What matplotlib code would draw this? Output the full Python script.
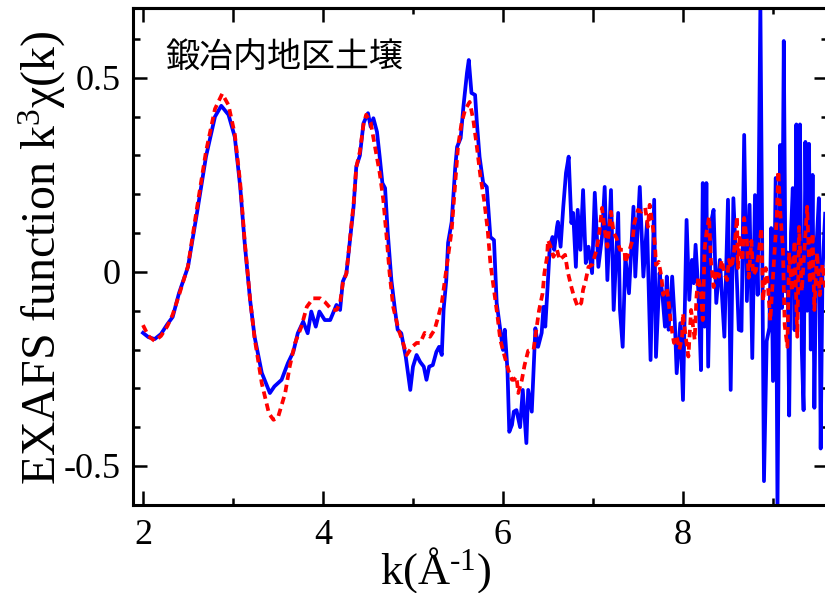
import numpy as np
import matplotlib
matplotlib.use("Agg")
import matplotlib.pyplot as plt
from matplotlib.ticker import MultipleLocator

plt.rcParams["font.family"] = ["Liberation Serif", "DejaVu Serif"]
plt.rcParams["mathtext.fontset"] = "custom"
plt.rcParams["mathtext.rm"] = "Liberation Serif"
plt.rcParams["mathtext.it"] = "Liberation Serif"

# measured k^3 chi(k) (solid blue)
k_meas = [2.00, 2.06, 2.13, 2.20, 2.27, 2.33, 2.40, 2.50, 2.60, 2.70, 2.80, 2.87, 2.95, 3.02, 3.08,
          3.13, 3.19, 3.24, 3.32, 3.41, 3.46, 3.54, 3.61, 3.67, 3.72, 3.78, 3.83, 3.87, 3.92, 3.96,
          4.02, 4.08, 4.15, 4.19, 4.22, 4.26, 4.30, 4.34, 4.37, 4.41, 4.45, 4.50, 4.53, 4.56, 4.60,
          4.63, 4.66, 4.69, 4.72, 4.76, 4.80, 4.83, 4.87, 4.92, 4.97, 5.00, 5.04, 5.08, 5.12, 5.15,
          5.18, 5.22, 5.26, 5.29, 5.32, 5.34, 5.37, 5.39, 5.43, 5.47, 5.49, 5.53, 5.56, 5.60, 5.62,
          5.65, 5.69, 5.71, 5.74, 5.78, 5.82, 5.83, 5.86, 5.90, 5.93, 5.97, 6.00, 6.02, 6.05, 6.07,
          6.10, 6.12, 6.15, 6.19, 6.22, 6.26, 6.28, 6.32, 6.36, 6.39, 6.43, 6.45, 6.47, 6.50, 6.52,
          6.55, 6.57, 6.60, 6.61, 6.64, 6.67, 6.70, 6.73, 6.76, 6.78, 6.81, 6.83, 6.86, 6.89, 6.92,
          6.95, 6.99, 7.02, 7.06, 7.10, 7.13, 7.16, 7.20, 7.23, 7.28, 7.30, 7.33, 7.36, 7.40, 7.45,
          7.47, 7.52, 7.56, 7.60, 7.64, 7.68, 7.70, 7.74, 7.77, 7.80, 7.82, 7.84, 7.88, 7.91, 7.93,
          7.97, 8.00, 8.04, 8.07, 8.10, 8.12, 8.14, 8.17, 8.20, 8.22, 8.24, 8.26, 8.28, 8.31, 8.34,
          8.37, 8.41, 8.46, 8.50, 8.53, 8.56, 8.60, 8.62, 8.65, 8.68, 8.71, 8.74, 8.77, 8.80, 8.83,
          8.86, 8.90, 8.93, 8.96, 8.98, 9.00, 9.03, 9.05, 9.08, 9.10, 9.12, 9.14, 9.16, 9.18, 9.20,
          9.22, 9.24, 9.26, 9.28, 9.30, 9.32, 9.34, 9.36, 9.38, 9.40, 9.42, 9.44, 9.46, 9.48, 9.51,
          9.53, 9.55, 9.58]
chi_meas = [-0.157, -0.168, -0.173, -0.160, -0.135, -0.116, -0.055, 0.013, 0.152, 0.297, 0.400, 0.428, 0.405, 0.348, 0.220,
            0.075, -0.072, -0.167, -0.260, -0.312, -0.295, -0.278, -0.235, -0.206, -0.158, -0.128, -0.158, -0.102, -0.141, -0.102,
            -0.124, -0.124, -0.085, -0.098, -0.025, -0.004, 0.082, 0.168, 0.271, 0.300, 0.383, 0.409, 0.374, 0.396, 0.361,
            0.297, 0.229, 0.216, 0.100, -0.021, -0.098, -0.149, -0.158, -0.219, -0.304, -0.244, -0.214, -0.232, -0.244, -0.278,
            -0.244, -0.240, -0.206, -0.193, -0.214, -0.098, -0.021, 0.075, 0.129, 0.271, 0.322, 0.345, 0.425, 0.513, 0.546,
            0.461, 0.456, 0.384, 0.296, 0.229, 0.219, 0.186, 0.090, 0.082, -0.080, -0.149, -0.201, -0.149, -0.253, -0.412,
            -0.394, -0.360, -0.356, -0.400, -0.304, -0.441, -0.304, -0.360, -0.145, -0.193, -0.157, -0.090, -0.141, -0.021, 0.065,
            0.090, 0.057, 0.116, 0.129, 0.065, 0.168, 0.255, 0.297, 0.126, 0.152, 0.013, 0.160, 0.057, 0.211, 0.023,
            0.065, -0.003, 0.204, 0.013, 0.090, 0.219, -0.021, 0.211, -0.098, 0.152, -0.098, -0.193, 0.039, -0.055, 0.168,
            -0.012, 0.219, -0.012, 0.126, -0.227, 0.186, -0.219, -0.003, -0.055, -0.141, -0.012, -0.149, -0.012, -0.132, -0.261,
            -0.132, -0.330, 0.134, -0.072, 0.031, -0.029, 0.070, -0.046, -0.253, 0.229, -0.141, 0.229, -0.244, 0.126, 0.160,
            -0.080, 0.031, -0.167, 0.186, -0.304, 0.190, -0.029, -0.149, -0.152, 0.353, -0.075, 0.173, -0.222, 0.198, -0.059,
            0.690, -0.539, -0.178, -0.144, 0.113, -0.281, 0.242, -0.615, 0.327, -0.093, 0.595, -0.050, 0.050, -0.370, 0.100,
            0.216, -0.150, 0.380, -0.100, 0.380, -0.200, -0.356, 0.335, -0.100, 0.330, -0.200, 0.250, -0.350, 0.050, 0.190,
            -0.455, 0.000, 0.150]

# fitted k^3 chi(k) (dashed red)
k_fit = [2.00, 2.06, 2.13, 2.20, 2.27, 2.33, 2.40, 2.50, 2.60, 2.70, 2.80, 2.88, 2.95, 3.02, 3.08,
         3.13, 3.19, 3.24, 3.32, 3.40, 3.45, 3.50, 3.58, 3.63, 3.69, 3.76, 3.82, 3.89, 3.97, 4.02,
         4.10, 4.15, 4.19, 4.22, 4.26, 4.30, 4.34, 4.37, 4.41, 4.45, 4.48, 4.53, 4.58, 4.63, 4.67,
         4.71, 4.74, 4.78, 4.84, 4.89, 4.93, 4.99, 5.04, 5.08, 5.13, 5.19, 5.24, 5.28, 5.32, 5.36,
         5.39, 5.43, 5.47, 5.50, 5.54, 5.58, 5.63, 5.67, 5.71, 5.75, 5.79, 5.83, 5.86, 5.90, 5.94,
         5.97, 6.02, 6.06, 6.10, 6.12, 6.15, 6.17, 6.21, 6.24, 6.28, 6.34, 6.37, 6.40, 6.44, 6.46,
         6.49, 6.50, 6.53, 6.56, 6.60, 6.63, 6.69, 6.72, 6.76, 6.79, 6.83, 6.87, 6.89, 6.92, 6.95,
         6.99, 7.04, 7.07, 7.10, 7.13, 7.16, 7.20, 7.23, 7.26, 7.30, 7.35, 7.36, 7.40, 7.44, 7.46,
         7.50, 7.54, 7.58, 7.61, 7.63, 7.67, 7.69, 7.70, 7.73, 7.76, 7.78, 7.82, 7.84, 7.87, 7.90,
         7.93, 7.96, 7.99, 8.00, 8.03, 8.06, 8.09, 8.13, 8.15, 8.17, 8.20, 8.22, 8.24, 8.26, 8.29,
         8.31, 8.34, 8.37, 8.40, 8.43, 8.46, 8.49, 8.51, 8.54, 8.57, 8.60, 8.61, 8.63, 8.66, 8.68,
         8.71, 8.73, 8.76, 8.78, 8.81, 8.84, 8.87, 8.89, 8.92, 8.94, 8.97, 8.99, 9.02, 9.04, 9.06,
         9.08, 9.11, 9.13, 9.16, 9.18, 9.21, 9.24, 9.27, 9.29, 9.32, 9.35, 9.38, 9.41, 9.44, 9.46,
         9.49, 9.52, 9.55, 9.58]
chi_fit = [-0.137, -0.165, -0.178, -0.165, -0.140, -0.110, -0.060, 0.015, 0.165, 0.310, 0.420, 0.459, 0.430, 0.355, 0.230,
           0.080, -0.070, -0.170, -0.287, -0.365, -0.381, -0.375, -0.312, -0.244, -0.183, -0.141, -0.090, -0.068, -0.068, -0.077,
           -0.098, -0.098, -0.080, -0.030, -0.004, 0.085, 0.175, 0.270, 0.310, 0.380, 0.405, 0.385, 0.320, 0.255, 0.186,
           0.082, -0.003, -0.090, -0.149, -0.183, -0.214, -0.193, -0.183, -0.183, -0.157, -0.167, -0.149, -0.116, -0.080, -0.012,
           0.039, 0.108, 0.229, 0.322, 0.384, 0.418, 0.438, 0.392, 0.322, 0.245, 0.186, 0.108, 0.023, -0.046, -0.116,
           -0.175, -0.219, -0.253, -0.278, -0.278, -0.270, -0.312, -0.278, -0.240, -0.203, -0.200, -0.150, -0.100, -0.055, -0.003,
           0.039, 0.082, 0.065, 0.039, 0.057, 0.031, 0.044, 0.000, -0.039, -0.064, -0.090, -0.080, -0.046, -0.021, 0.013,
           0.018, 0.057, 0.100, 0.165, 0.108, 0.065, 0.155, 0.100, 0.088, 0.057, 0.057, 0.023, 0.052, 0.082, 0.126,
           0.160, 0.155, 0.165, 0.116, 0.173, 0.108, 0.065, 0.018, 0.026, -0.012, -0.059, -0.041, -0.077, -0.141, -0.183,
           -0.167, -0.200, -0.167, -0.107, -0.167, -0.218, -0.098, -0.175, -0.064, -0.012, -0.055, -0.124, 0.057, 0.100, 0.142,
           0.031, -0.039, 0.005, -0.012, 0.031, -0.003, -0.021, 0.031, 0.010, 0.057, 0.142, 0.010, 0.095, 0.028, 0.139,
           0.080, -0.015, 0.080, -0.008, 0.003, 0.044, 0.113, -0.075, 0.010, -0.023, -0.126, -0.049, 0.062, 0.131, 0.260,
           0.157, 0.062, -0.137, -0.193, 0.050, -0.050, 0.080, -0.167, 0.116, -0.050, 0.060, 0.168, -0.030, 0.100, -0.098,
           0.050, -0.060, 0.020, -0.040]

title_text = "鍛冶内地区土壌"
x_major = [2, 4, 6, 8]
top_major = [2, 3, 4, 6, 7, 8]
top_minor = [5, 9]

fig = plt.figure(figsize=(8.25, 5.93), dpi=100)
ax = fig.add_axes([0.1612, 0.1484, 0.8424, 0.8381])

ax.plot(k_meas, chi_meas, color="#0000ff", lw=2.7, solid_joinstyle="round", zorder=2)
ax.plot(k_fit, chi_fit, color="#ff0000", lw=2.7, ls=(0, (2.0, 1.3)), zorder=3)

ax.set_xlim(1.889, 9.611)
ax.set_ylim(-0.6005, 0.680)

ax.set_xticks(x_major)
ax.xaxis.set_minor_locator(MultipleLocator(1))
ax.set_yticks([-0.5, 0, 0.5])
ax.set_yticklabels(["-0.5", "0", "0.5"])
ax.yaxis.set_minor_locator(MultipleLocator(0.1))

ax.tick_params(which="both", direction="in", right=True, top=False, width=1.8, labelsize=26)
ax.tick_params(which="major", length=10)
ax.tick_params(which="minor", length=5)
ax.tick_params(axis="x", pad=10)
ax.tick_params(axis="y", pad=9)

# top axis carries its own tick marks, no labels
top = ax.secondary_xaxis("top")
top.set_xticks(top_major)
top.set_xticks(top_minor, minor=True)
top.tick_params(which="both", direction="in", width=1.8, labeltop=False)
top.tick_params(which="major", length=10)
top.tick_params(which="minor", length=4)
top.spines["top"].set_linewidth(2.2)

for s in ax.spines.values():
    s.set_linewidth(2.2)

ax.set_ylabel(r"EXAFS function k$^{3}$χ(k)", fontsize=34.5)
ax.yaxis.set_label_coords(-0.094, 0.497)
ax.set_xlabel(r"k(Å$^{\text{-1}}$)", fontsize=32)
ax.xaxis.label.set_va("baseline")
ax.xaxis.set_label_coords(0.435, -0.157)

ax.text(0.046, 0.901, title_text, transform=ax.transAxes, fontsize=24.5, va="center", ha="left",
        family=["Noto Sans CJK JP", "DejaVu Sans"])

fig.savefig("out.png", dpi=100)
